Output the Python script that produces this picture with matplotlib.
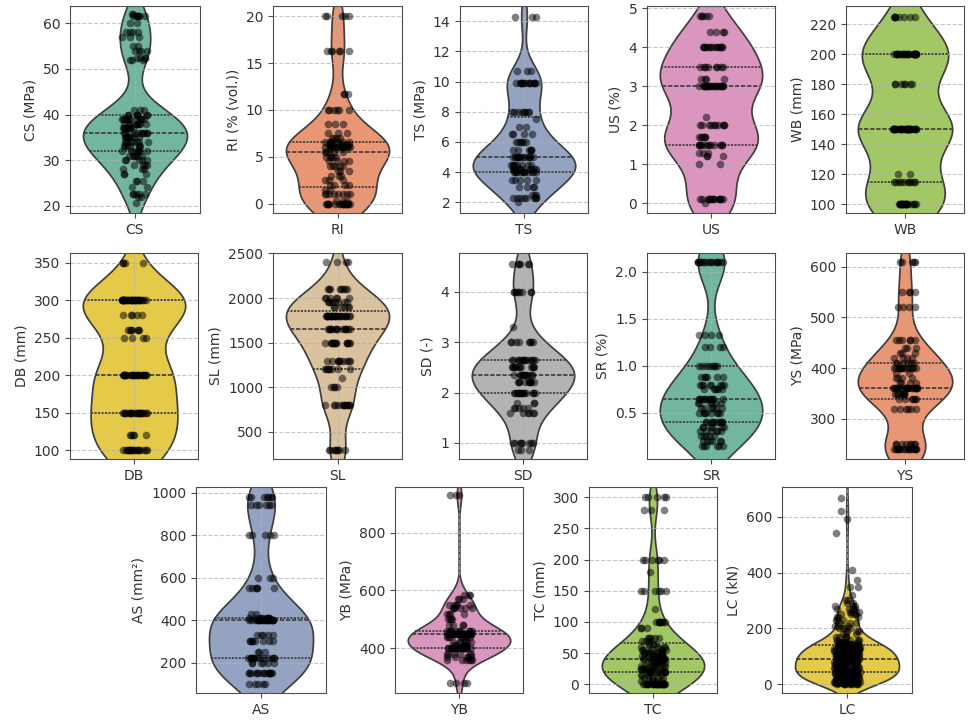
import numpy as np
import pandas as pd
import matplotlib
matplotlib.use("Agg")
import matplotlib.pyplot as plt
import seaborn as sns

# values, with how many points sit at each value
cs_vals = [20.5, 22, 22.5, 24, 25.5, 27, 28, 29, 30, 31, 32, 33, 34, 35, 36, 37, 38, 39, 40, 41,
           52, 52.5, 54, 55, 57, 58, 60, 61.5, 62]
cs_cnts = [1, 2, 5, 2, 3, 3, 3, 4, 5, 6, 8, 7, 8, 9, 9, 8, 9, 11, 7, 3,
           3, 4, 4, 2, 3, 4, 2, 6, 2]

ri_vals = [0, 0.3, 1, 1.5, 2, 2.5, 3, 3.5, 4, 4.5, 5, 5.5, 6, 6.3, 6.6, 7, 7.5, 8.5, 10, 11.7, 16.3, 20]
ri_cnts = [18, 3, 8, 2, 4, 3, 3, 3, 5, 4, 5, 5, 14, 8, 8, 4, 3, 3, 6, 3, 6, 5]

ts_vals = [2, 2.3, 2.5, 3, 3.5, 4, 4.2, 4.5, 5, 5.5, 6, 6.5, 7, 7.5, 8, 9.9, 10.7, 14.3]
ts_cnts = [1, 8, 3, 4, 5, 12, 10, 8, 14, 6, 6, 4, 2, 1, 8, 14, 3, 3]

us_vals = [0.1, 0, 1, 1.2, 1.3, 1.5, 1.7, 2, 2.2, 3, 3.2, 3.5, 4, 4.4, 4.8]
us_cnts = [14, 1, 2, 3, 3, 12, 6, 10, 1, 20, 4, 8, 14, 4, 5]

wb_vals = [100, 115, 120, 150, 180, 200, 225]
wb_cnts = [20, 10, 2, 32, 7, 26, 8]

db_vals = [100, 120, 150, 200, 250, 260, 280, 300, 350]
db_cnts = [18, 5, 22, 24, 4, 7, 5, 32, 4]

sl_vals = [300, 800, 1000, 1100, 1200, 1300, 1500, 1650, 1800, 1900, 1950, 2000, 2100, 2400]
sl_cnts = [8, 12, 4, 1, 8, 10, 14, 14, 24, 6, 8, 6, 8, 4]

sd_vals = [0.85, 1, 1.6, 1.7, 1.8, 2, 2.2, 2.35, 2.5, 2.65, 3, 3.3, 4, 4.55]
sd_cnts = [3, 8, 6, 5, 3, 14, 10, 12, 12, 14, 8, 1, 8, 6]

sr_vals = [0.15, 0.2, 0.25, 0.3, 0.35, 0.4, 0.5, 0.55, 0.6, 0.65, 0.75, 0.8, 0.88, 1.0, 1.2, 1.33, 2.1]
sr_cnts = [6, 6, 5, 6, 6, 10, 8, 6, 6, 12, 6, 8, 6, 8, 4, 4, 16]

ys_vals = [240, 250, 320, 340, 350, 360, 370, 380, 390, 400, 410, 420, 430, 440, 455, 520, 550, 610]
ys_cnts = [16, 8, 6, 6, 8, 20, 4, 4, 2, 14, 6, 4, 3, 3, 6, 4, 4, 5]

as_vals = [100, 150, 200, 220, 250, 300, 330, 400, 410, 430, 550, 600, 800, 940, 980]
as_cnts = [5, 16, 6, 14, 3, 8, 5, 22, 10, 2, 6, 3, 5, 6, 7]

yb_vals = [280, 360, 370, 380, 400, 410, 420, 440, 450, 460, 480, 500, 520, 540, 550, 570, 585, 930]
yb_cnts = [4, 6, 5, 6, 24, 6, 6, 8, 24, 10, 4, 4, 4, 6, 5, 3, 3, 3]

tc_vals = [0, 5, 10, 15, 20, 25, 30, 35, 40, 45, 50, 55, 60, 65, 70, 75, 90, 100, 120, 150, 180, 200, 280, 300]
tc_cnts = [26, 4, 6, 4, 12, 8, 10, 8, 12, 8, 10, 6, 6, 3, 3, 5, 3, 8, 1, 6, 1, 6, 3, 5]

lc_vals = [0, 5, 10, 15, 20, 25, 30, 35, 40, 45, 50, 55, 60, 65, 70, 75, 80, 85, 90, 95,
           100, 105, 110, 115, 120, 125, 130, 135, 140, 145, 150, 160, 170, 180, 190, 200,
           210, 220, 230, 240, 250, 260, 270, 280, 290, 300, 320, 350, 375, 410, 540, 590, 620, 665]
lc_cnts = [10, 8, 9, 8, 9, 8, 8, 9, 8, 8, 9, 8, 8, 8, 9, 8, 8, 7, 8, 8,
           9, 7, 8, 7, 8, 7, 8, 7, 8, 7, 8, 4, 4, 3, 3, 4,
           3, 3, 3, 3, 4, 3, 4, 3, 2, 2, 1, 2, 1, 1, 1, 1, 1, 1]

names = ["CS", "RI", "TS", "US", "WB", "DB", "SL", "SD", "SR", "YS", "AS", "YB", "TC", "LC"]
ylabels = ["CS (MPa)", "RI (% (vol.))", "TS (MPa)", "US (%)", "WB (mm)",
           "DB (mm)", "SL (mm)", "SD (-)", "SR (%)", "YS (MPa)",
           "AS (mm²)", "YB (MPa)", "TC (mm)", "LC (kN)"]
series = [(cs_vals, cs_cnts), (ri_vals, ri_cnts), (ts_vals, ts_cnts), (us_vals, us_cnts),
          (wb_vals, wb_cnts), (db_vals, db_cnts), (sl_vals, sl_cnts), (sd_vals, sd_cnts),
          (sr_vals, sr_cnts), (ys_vals, ys_cnts), (as_vals, as_cnts), (yb_vals, yb_cnts),
          (tc_vals, tc_cnts), (lc_vals, lc_cnts)]
yticks = [[20, 30, 40, 50, 60], [0, 5, 10, 15, 20], [2, 4, 6, 8, 10, 12, 14], [0, 1, 2, 3, 4, 5],
          [100, 120, 140, 160, 180, 200, 220], [100, 150, 200, 250, 300, 350],
          [500, 1000, 1500, 2000, 2500], [1, 2, 3, 4], [0.5, 1.0, 1.5, 2.0], [300, 400, 500, 600],
          [200, 400, 600, 800, 1000], [400, 600, 800], [0, 50, 100, 150, 200, 250, 300],
          [0, 200, 400, 600]]
ylims = [(18.4, 63.8), (-1.0, 21.1), (1.3, 15.0), (-0.25, 5.06), (94, 232),
         (88, 363), (197, 2504), (0.68, 4.77), (0.007, 2.2), (221, 627),
         (57, 1027), (245, 958), (-14, 316.5), (-31, 706)]

# axes boxes in pixels: left, right, top, bottom
boxes = [(70, 200, 6, 213), (273, 402, 6, 213), (460, 588, 6, 213), (647, 775, 6, 213), (846, 964, 6, 213),
         (70, 198, 253, 459), (273, 402, 253, 459), (459, 587, 253, 459), (647, 775, 253, 459), (846, 964, 253, 459),
         (196, 326, 487, 693), (395, 523, 487, 693), (589, 717, 487, 693), (782, 912, 487, 693)]

W, H = 969, 720
palette = sns.color_palette("Set2", 8)
plt.rcParams['font.family'] = ['DejaVu Sans']
plt.rcParams['font.size'] = 10
plt.rcParams['text.color'] = '0.2'
plt.rcParams['xtick.color'] = '0.3'
plt.rcParams['ytick.color'] = '0.3'
plt.rcParams['xtick.labelcolor'] = '0.2'
plt.rcParams['ytick.labelcolor'] = '0.2'
plt.rcParams['axes.labelcolor'] = '0.2'
plt.rcParams['axes.edgecolor'] = '0.3'

np.random.seed(0)
fig = plt.figure(figsize=(W / 100, H / 100), dpi=100)

for i, name in enumerate(names):
    l, r, t, b = boxes[i]
    ax = fig.add_axes([l / W, 1 - b / H, (r - l) / W, (b - t) / H])
    vals, cnts = series[i]
    df = pd.DataFrame({name: np.repeat(vals, cnts)})
    sns.violinplot(data=df, color=palette[i % 8], inner="quart", ax=ax)
    sns.stripplot(data=df, color="black", alpha=0.5, size=5.5, jitter=True, ax=ax)
    ax.set_ylim(*ylims[i])
    ax.set_yticks(yticks[i])
    ax.set_ylabel(ylabels[i], fontsize=10)
    ax.set_xlabel("")
    ax.grid(True, linestyle="--", alpha=0.7)

fig.savefig("out.png", dpi=100)
